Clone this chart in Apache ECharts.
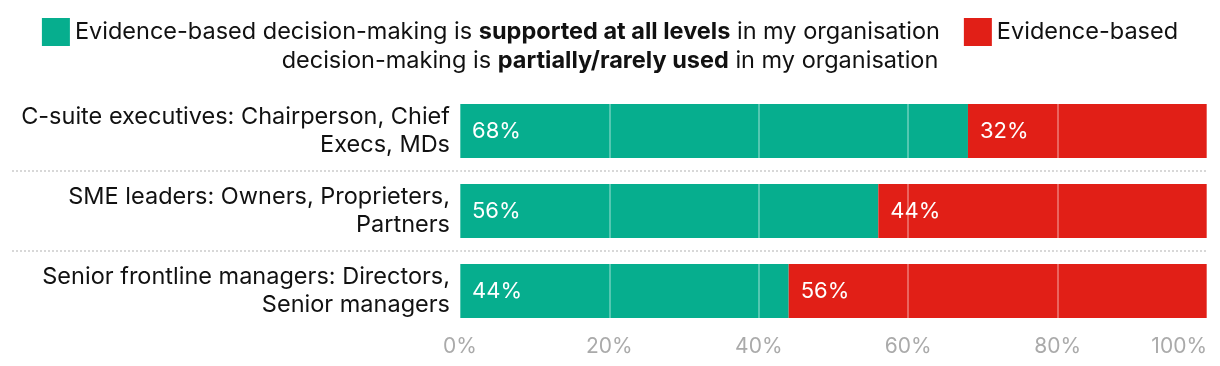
<!DOCTYPE html>
<html>
<head>
<meta charset="utf-8">
<script src="https://cdn.jsdelivr.net/npm/echarts@6/dist/echarts.min.js"></script>
<style>
  html, body { margin: 0; padding: 0; background: #fff; }
  #chart { width: 1220px; height: 366px; }
</style>
</head>
<body>
<div id="chart"></div>
<script>
const categories = [
  'C-suite executives: Chairperson, Chief\nExecs, MDs',
  'SME leaders: Owners, Proprieters,\nPartners',
  'Senior frontline managers: Directors,\nSenior managers'
];
const supported = [68, 56, 44];
const partial = [32, 44, 56];
const xTicks = [0, 20, 40, 60, 80, 100];

const seriesNames = [
  'Evidence-based decision-making is supported at all levels in my organisation',
  'Evidence-based decision-making is partially/rarely used in my organisation'
];
const GREEN = '#06ae8e';
const RED = '#e11f17';
const FONT = 'Inter';
const TXT = 23.5;

const chart = echarts.init(document.getElementById('chart'));
chart.setOption({
  animation: false,
  textStyle: { fontFamily: FONT },
  title: {
    left: 'center',
    top: 44,
    text: '{n|decision-making is }{b|partially/rarely used}{n| in my organisation}',
    textStyle: {
      rich: {
        n: { fontFamily: FONT, fontSize: TXT, color: '#111', fontWeight: 'normal' },
        b: { fontFamily: FONT, fontSize: TXT, color: '#111', fontWeight: 'bold' }
      }
    }
  },
  legend: {
    top: 13,
    left: 'center',
    itemWidth: 28,
    itemHeight: 28,
    itemGap: 24,
    icon: 'rect',
    selectedMode: false,
    data: seriesNames,
    formatter: function (name) {
      if (name === seriesNames[0]) {
        return '{n|Evidence-based decision-making is }{b|supported at all levels}{n| in my organisation}';
      }
      return '{n|Evidence-based}';
    },
    textStyle: {
      color: '#111',
      fontSize: TXT,
      rich: {
        n: { fontFamily: FONT, fontSize: TXT, color: '#111' },
        b: { fontFamily: FONT, fontSize: TXT, color: '#111', fontWeight: 'bold' }
      }
    }
  },
  grid: [
    { left: 460, right: 13, top: 91, height: 240 },
    { left: 12, right: 13, top: 91, height: 240 }
  ],
  xAxis: [
    {
      type: 'value', gridIndex: 0, min: 0, max: 100, interval: 20, z: 5,
      axisLine: { show: false }, axisTick: { show: false },
      splitLine: { show: true, lineStyle: { color: 'rgba(255,255,255,0.42)', width: 1.5 } },
      axisLabel: {
        formatter: function (v) { return xTicks.indexOf(v) >= 0 ? v + '%' : ''; },
        color: '#aaa', fontSize: 21, margin: 5, fontFamily: FONT,
        alignMaxLabel: 'right'
      }
    },
    { type: 'value', gridIndex: 1, show: false, min: 0, max: 1 }
  ],
  yAxis: [
    {
      type: 'category', gridIndex: 0, data: categories, inverse: true,
      axisLine: { show: false }, axisTick: { show: false },
      splitLine: { show: false },
      axisLabel: { color: '#111', fontSize: TXT, lineHeight: 28, margin: 10, fontFamily: FONT, align: 'right' }
    },
    {
      type: 'value', gridIndex: 1, min: 0, max: 3, interval: 1, inverse: true,
      axisLine: { show: false }, axisTick: { show: false }, axisLabel: { show: false },
      splitLine: { show: true, showMinLine: false, showMaxLine: false,
        lineStyle: { color: '#d8d8d8', type: [2, 2], width: 2 } }
    }
  ],
  series: [
    {
      name: seriesNames[0], type: 'bar', stack: 'total', data: supported,
      barWidth: 54, itemStyle: { color: GREEN },
      label: { show: true, position: 'insideLeft', distance: 12, color: '#fff', fontSize: 22, fontFamily: FONT, formatter: '{c}%' }
    },
    {
      name: seriesNames[1], type: 'bar', stack: 'total', data: partial,
      barWidth: 54, itemStyle: { color: RED },
      label: { show: true, position: 'insideLeft', distance: 12, color: '#fff', fontSize: 22, fontFamily: FONT, formatter: '{c}%' }
    }
  ]
});
</script>
</body>
</html>
